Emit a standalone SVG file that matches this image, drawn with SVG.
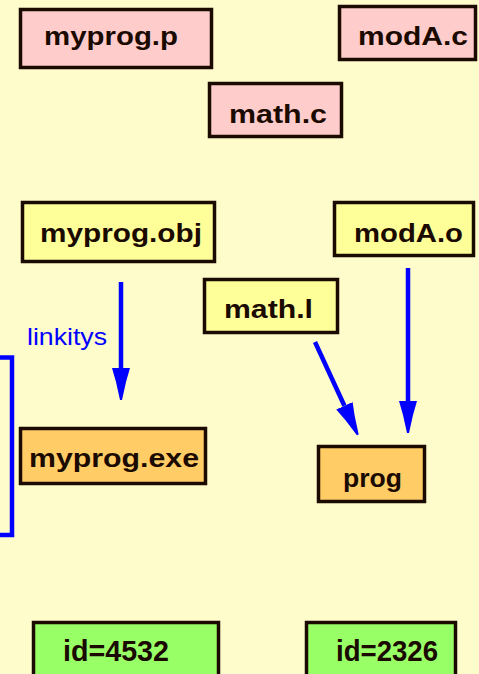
<svg xmlns="http://www.w3.org/2000/svg" width="479" height="674" viewBox="0 0 479 674">
  <defs>
    <style>
      .box { stroke: #1a0a00; stroke-width: 3.5; }
      .src { fill: #ffcccc; }
      .obj { fill: #ffff99; }
      .exe { fill: #ffcc66; }
      .pid { fill: #99ff66; }
      .lbl { font-family: "Liberation Sans", Arial, sans-serif; font-weight: bold; fill: #1a0a00; font-size: 26px; }
      .big { font-size: 30px; }
      .link { stroke: #0000ff; stroke-width: 4.5; fill: none; }
      .note { font-family: "Liberation Sans", Arial, sans-serif; fill: #0000ff; font-size: 24px; }
    </style>
    <marker id="head" markerUnits="userSpaceOnUse" markerWidth="34" markerHeight="22" refX="0" refY="11" orient="auto" viewBox="0 0 34 22">
      <path d="M0,2 L14,6 L32,10 L32,12 L14,16 L0,20 z" fill="#0000ff"/>
    </marker>
  </defs>

  <rect width="479" height="674" fill="#fffccc"/>

  <!-- source files -->
  <g id="myprog-p">
    <rect class="box src" x="20.5" y="9.5" width="191" height="58"/>
    <text class="lbl" x="44" y="45" textLength="134" lengthAdjust="spacingAndGlyphs">myprog.p</text>
  </g>
  <g id="modA-c">
    <rect class="box src" x="339.5" y="6.5" width="136" height="53"/>
    <text class="lbl" x="358" y="45" textLength="110" lengthAdjust="spacingAndGlyphs">modA.c</text>
  </g>
  <g id="math-c">
    <rect class="box src" x="209.5" y="83.5" width="132" height="53"/>
    <text class="lbl" x="229" y="123" textLength="98" lengthAdjust="spacingAndGlyphs">math.c</text>
  </g>

  <!-- object files -->
  <g id="myprog-obj">
    <rect class="box obj" x="22.5" y="202.5" width="192" height="59"/>
    <text class="lbl" x="40" y="242" textLength="162" lengthAdjust="spacingAndGlyphs">myprog.obj</text>
  </g>
  <g id="modA-o">
    <rect class="box obj" x="334.5" y="202.5" width="139" height="53"/>
    <text class="lbl" x="354" y="242" textLength="109" lengthAdjust="spacingAndGlyphs">modA.o</text>
  </g>
  <g id="math-l">
    <rect class="box obj" x="204.5" y="279.5" width="133" height="53"/>
    <text class="lbl" x="224" y="318" textLength="89" lengthAdjust="spacingAndGlyphs">math.l</text>
  </g>

  <!-- executables -->
  <g id="myprog-exe">
    <rect class="box exe" x="20.5" y="428.5" width="185" height="55"/>
    <text class="lbl" x="29" y="467" textLength="170" lengthAdjust="spacingAndGlyphs">myprog.exe</text>
  </g>
  <g id="prog">
    <rect class="box exe" x="318.5" y="446.5" width="106" height="55"/>
    <text class="lbl" x="343" y="487" textLength="59" lengthAdjust="spacingAndGlyphs">prog</text>
  </g>

  <!-- processes -->
  <g id="pid-4532">
    <rect class="box pid" x="33.5" y="622.5" width="185" height="60"/>
    <text class="lbl big" x="63" y="661" textLength="106" lengthAdjust="spacingAndGlyphs">id=4532</text>
  </g>
  <g id="pid-2326">
    <rect class="box pid" x="306.5" y="622.5" width="149" height="60"/>
    <text class="lbl big" x="336" y="661" textLength="102" lengthAdjust="spacingAndGlyphs">id=2326</text>
  </g>

  <!-- linking connectors -->
  <g id="connectors">
    <line class="link" x1="121" y1="282" x2="121" y2="368" marker-end="url(#head)"/>
    <line class="link" x1="408" y1="268" x2="408" y2="401" marker-end="url(#head)"/>
    <line class="link" x1="315" y1="342" x2="344.4" y2="405.8" marker-end="url(#head)"/>
    <text class="note" x="27" y="345" textLength="80" lengthAdjust="spacingAndGlyphs">linkitys</text>
    <path d="M0,357.5 H12 V535 H0" stroke="#0000ff" stroke-width="4.5" fill="none"/>
  </g>
</svg>
